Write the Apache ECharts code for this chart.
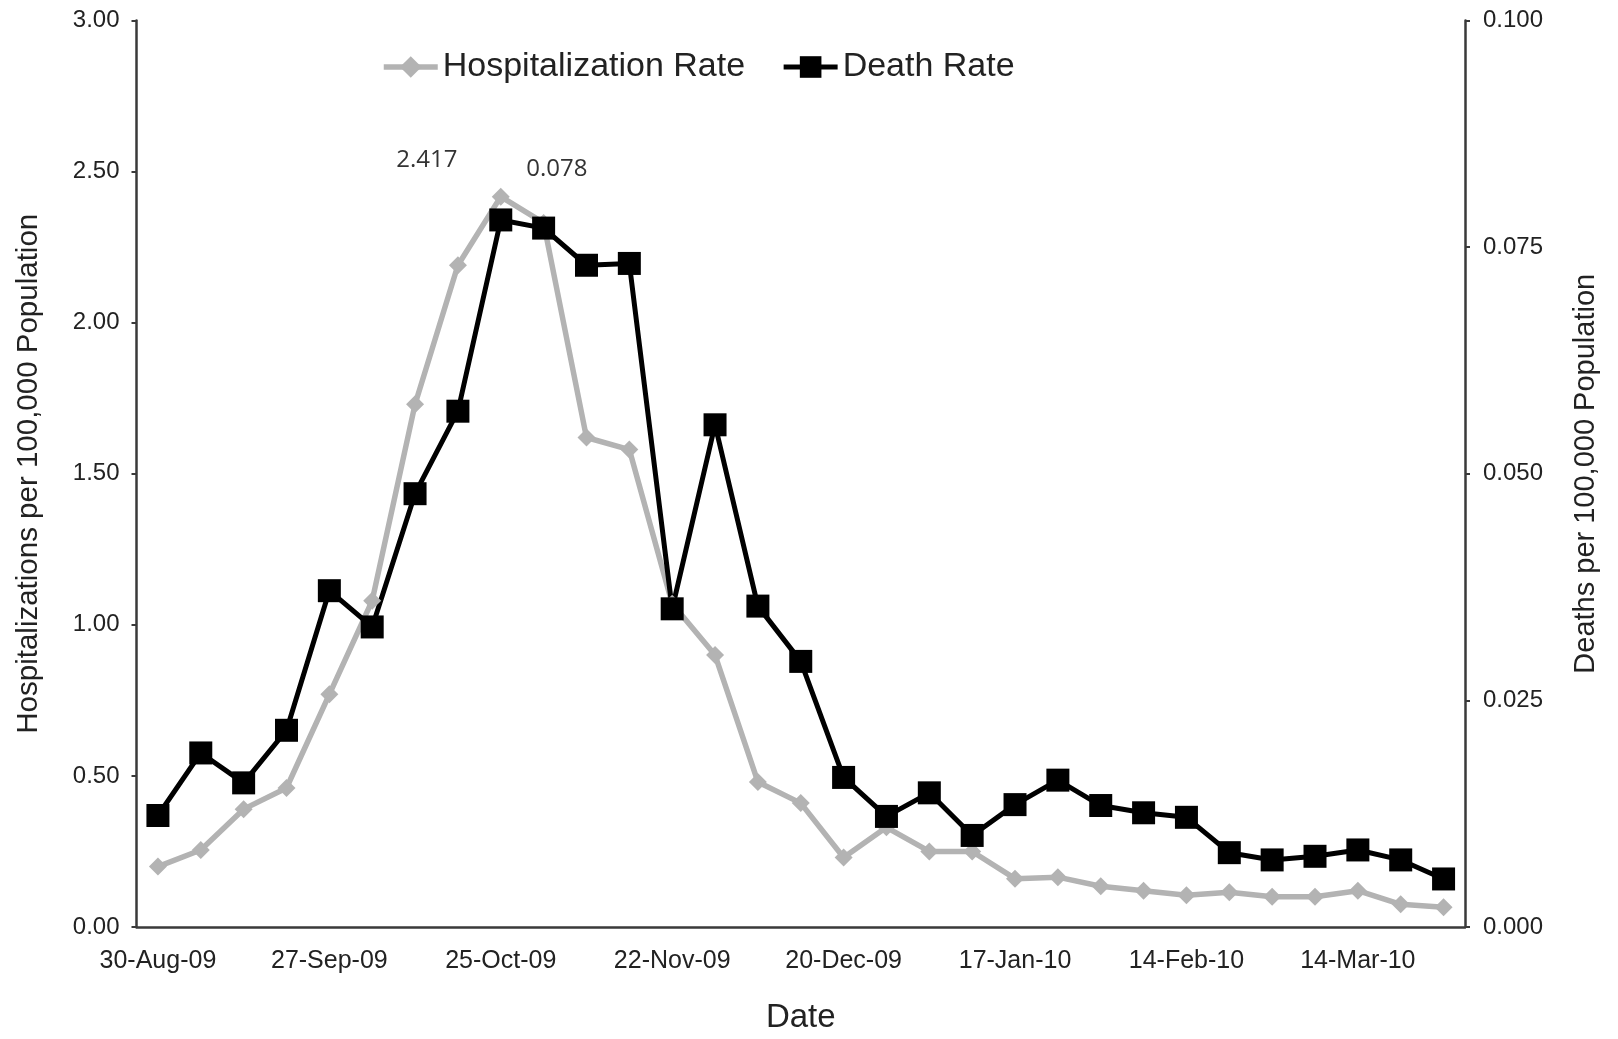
<!DOCTYPE html>
<html>
<head>
<meta charset="utf-8">
<title>Hospitalization and Death Rate</title>
<script src="https://cdn.jsdelivr.net/npm/echarts@6/dist/echarts.min.js"></script>
<style>
    html, body { margin: 0; padding: 0; background: #fff; }
    #main { width: 1618px; height: 1039px; }
</style>
</head>
<body>
<div id="main"></div>
<script>
// weekly dates (week start)
var weeks = ['30-Aug-09', '6-Sep-09', '13-Sep-09', '20-Sep-09', '27-Sep-09', '4-Oct-09', '11-Oct-09', '18-Oct-09',
    '25-Oct-09', '1-Nov-09', '8-Nov-09', '15-Nov-09', '22-Nov-09', '29-Nov-09', '6-Dec-09', '13-Dec-09',
    '20-Dec-09', '27-Dec-09', '3-Jan-10', '10-Jan-10', '17-Jan-10', '24-Jan-10', '31-Jan-10', '7-Feb-10',
    '14-Feb-10', '21-Feb-10', '28-Feb-10', '7-Mar-10', '14-Mar-10', '21-Mar-10', '28-Mar-10'];

// hospitalizations per 100,000 (left axis)
var hospRate = [0.20, 0.255, 0.39, 0.46, 0.77, 1.08, 1.73, 2.19, 2.417, 2.33, 1.62, 1.58, 1.07, 0.90, 0.48, 0.41,
    0.23, 0.33, 0.25, 0.25, 0.16, 0.165, 0.135, 0.12, 0.105, 0.115, 0.10, 0.10, 0.12, 0.075, 0.065];

// deaths per 100,000 (right axis)
var deathRate = [0.0123, 0.0192, 0.0159, 0.0217, 0.0371, 0.0331, 0.0478, 0.0569, 0.078, 0.0771, 0.0730, 0.0732,
    0.0351, 0.0554, 0.0354, 0.0293, 0.0165, 0.0122, 0.0148, 0.0101, 0.0135, 0.0162, 0.0134, 0.0126,
    0.0121, 0.0082, 0.0074, 0.0078, 0.0085, 0.0074, 0.0053];

var peakIndex = 8;

(function() {
    var myChart = echarts.init(document.getElementById('main'));
    var font = 'Liberation Sans, Arial, sans-serif';
    var textColor = '#222';
    var axisColor = '#3a3a3a';

    // only the peak point gets a value label
    var hospData = hospRate.map(function(v, i) {
        if (i !== peakIndex) return v;
        return {
            value: v,
            label: {
                show: true, position: 'inside', offset: [-74, -37],
                formatter: '2.417', color: '#333', fontFamily: 'Open Sans', fontSize: 24
            }
        };
    });
    var deathData = deathRate.map(function(v, i) {
        if (i !== peakIndex) return v;
        return {
            value: v,
            label: {
                show: true, position: 'inside', offset: [56, -51],
                formatter: '0.078', color: '#333', fontFamily: 'Open Sans', fontSize: 24
            }
        };
    });

    var option = {
        backgroundColor: '#fff',
        animation: false,
        textStyle: { fontFamily: font, color: textColor },
        legend: {
            left: 376,
            top: 45,
            itemWidth: 54,
            itemHeight: 27,
            itemGap: 36,
            textStyle: { fontSize: 34, color: textColor, fontFamily: font },
            data: [
                { name: 'Hospitalization Rate', lineStyle: { width: 5.5, color: '#b3b3b3' } },
                { name: 'Death Rate', lineStyle: { width: 5, color: '#000' } }
            ]
        },
        grid: {
            left: 136.5,
            right: 153,
            top: 20.5,
            bottom: 108.3
        },
        xAxis: {
            type: 'category',
            data: weeks,
            boundaryGap: true,
            name: 'Date',
            nameLocation: 'middle',
            nameGap: 74,
            nameTextStyle: { fontSize: 33, color: textColor },
            axisLine: { lineStyle: { color: axisColor, width: 2.5 } },
            axisTick: { interval: 3, length: 8, lineStyle: { color: axisColor, width: 2 } },
            axisLabel: { interval: 3, margin: 22, fontSize: 25, color: textColor }
        },
        yAxis: [{
            type: 'value',
            min: 0,
            max: 3,
            interval: 0.5,
            name: 'Hospitalizations per 100,000 Population',
            nameLocation: 'middle',
            nameRotate: 90,
            nameGap: 93,
            nameTextStyle: { fontSize: 29.5, color: textColor },
            splitLine: { show: false },
            axisLine: { show: true, lineStyle: { color: axisColor, width: 2.5 } },
            axisTick: { show: true, length: 5, lineStyle: { color: axisColor, width: 2 } },
            axisLabel: {
                margin: 17, fontSize: 24, color: textColor,
                formatter: function(v) { return v.toFixed(2); }
            }
        }, {
            type: 'value',
            position: 'right',
            min: 0,
            max: 0.1,
            interval: 0.025,
            name: 'Deaths per 100,000 Population',
            nameLocation: 'middle',
            nameRotate: 90,
            nameGap: 106,
            nameTextStyle: { fontSize: 29, color: textColor },
            splitLine: { show: false },
            axisLine: { show: true, lineStyle: { color: axisColor, width: 2.5 } },
            axisTick: { show: true, length: 5, lineStyle: { color: axisColor, width: 2 } },
            axisLabel: {
                margin: 18, fontSize: 24, color: textColor,
                formatter: function(v) { return v.toFixed(3); }
            }
        }],
        series: [{
            name: 'Hospitalization Rate',
            type: 'line',
            yAxisIndex: 0,
            data: hospData,
            symbol: 'diamond',
            symbolSize: 18,
            itemStyle: { color: '#b3b3b3' },
            lineStyle: { color: '#b3b3b3', width: 5.5 }
        }, {
            name: 'Death Rate',
            type: 'line',
            yAxisIndex: 1,
            data: deathData,
            symbol: 'rect',
            symbolSize: 23,
            itemStyle: { color: '#000' },
            lineStyle: { color: '#000', width: 5 }
        }]
    };

    myChart.setOption(option);
})();
</script>
</body>
</html>
